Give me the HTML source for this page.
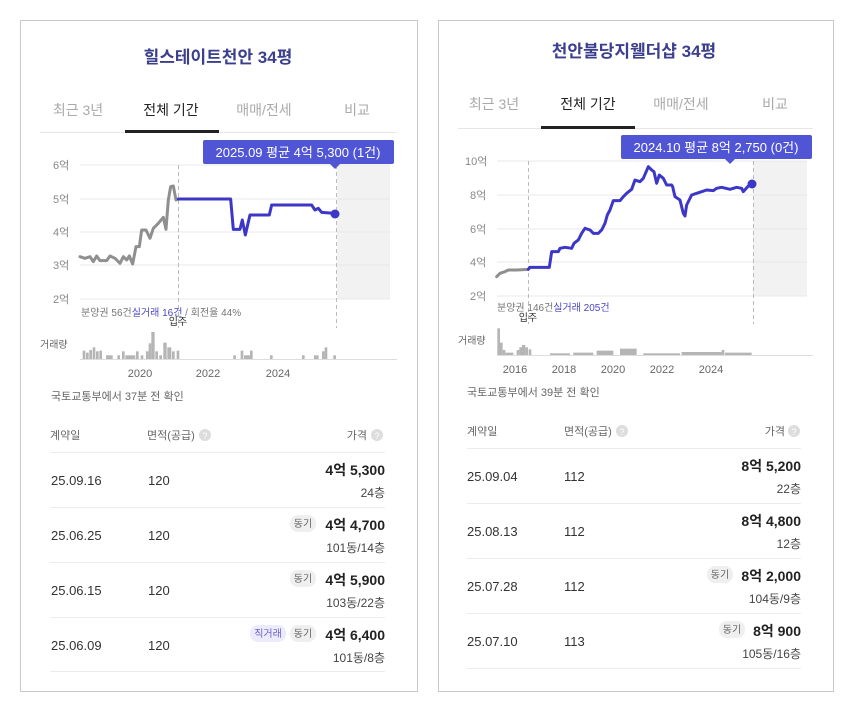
<!DOCTYPE html>
<html><head><meta charset="utf-8"><style>
html,body{margin:0;padding:0;background:#fff;}
svg text{font-family:"Liberation Sans","Noto Sans CJK KR",sans-serif;}
</style></head><body>
<svg width="854" height="713" viewBox="0 0 854 713" xmlns="http://www.w3.org/2000/svg">
<rect x="0" y="0" width="854" height="713" fill="#fff"/>
<!-- LEFT CARD -->
<rect x="20.5" y="20.5" width="397" height="671" fill="#fff" stroke="#c8c8c8"/>
<text x="218" y="63" text-anchor="middle" font-size="17" font-weight="bold" fill="#3c3f8c">힐스테이트천안 34평</text>
<g font-size="14" text-anchor="middle" fill="#aaa">
<text x="78" y="115">최근 3년</text><text x="171" y="115" fill="#222">전체 기간</text><text x="264" y="115">매매/전세</text><text x="357" y="115">비교</text></g>
<rect x="40" y="132" width="357" height="1" fill="#e6e6e6"/>
<rect x="125" y="130" width="94" height="3" fill="#222"/>
<!-- chart -->
<rect x="337" y="165" width="53" height="134" fill="#f2f2f2"/>
<g stroke="#e8e8e8" stroke-width="1">
<line x1="80" y1="165" x2="390" y2="165"/><line x1="80" y1="199" x2="390" y2="199"/><line x1="80" y1="232" x2="390" y2="232"/><line x1="80" y1="265" x2="390" y2="265"/><line x1="80" y1="299" x2="390" y2="299"/></g>
<g font-size="11" fill="#888"><text x="53" y="169">6억</text><text x="53" y="203">5억</text><text x="53" y="236">4억</text><text x="53" y="269">3억</text><text x="53" y="303">2억</text></g>
<g stroke="#bbb" stroke-dasharray="4,3"><line x1="178.5" y1="165" x2="178.5" y2="328"/><line x1="336.5" y1="165" x2="336.5" y2="328"/></g>
<g transform="translate(40,130) scale(0.3333)" fill="none" stroke-width="9" stroke-linejoin="round" stroke-linecap="round">
<polyline stroke="#8f8f8f" points="120,380 135,385 150,380 160,395 170,378 180,392 200,392 210,378 225,385 240,400 250,380 260,390 268,378 278,402 288,350 298,350 305,300 318,300 330,325 340,295 355,280 370,262 378,298 385,210 392,170 400,168 408,210 415,207"/>
<polyline stroke="#3d37c8" points="415,207 572,207 580,298 600,298 607,270 616,315 630,255 688,255 695,225 815,225 825,240 835,235 845,247 885,250"/>
</g>
<circle cx="335" cy="214" r="4.5" fill="#3d37c8"/>
<rect x="203" y="140" width="191" height="24" rx="2" fill="#5055d6"/>
<polygon points="330,164 340,164 335,169" fill="#5055d6"/>
<text x="298" y="157" text-anchor="middle" font-size="13" fill="#fff">2025.09 평균 4억 5,300 (1건)</text>
<text x="81" y="316" font-size="10" fill="#777">분양권 56건<tspan fill="#4a46c0">실거래 16건</tspan> / 회전율 44%</text>
<text x="178" y="325" text-anchor="middle" font-size="10" fill="#333">입주</text>
<text x="40" y="348" font-size="10" fill="#666">거래량</text>
<g fill="#b5b5b5" transform="translate(40,130) scale(0.3333)">
<rect x="128" y="662" width="8" height="26"/><rect x="138" y="668" width="8" height="20"/><rect x="148" y="660" width="8" height="28"/><rect x="158" y="652" width="8" height="36"/><rect x="168" y="664" width="8" height="24"/><rect x="178" y="662" width="8" height="26"/><rect x="198" y="676" width="20" height="12"/><rect x="232" y="676" width="8" height="12"/><rect x="246" y="664" width="8" height="24"/><rect x="256" y="676" width="30" height="12"/><rect x="288" y="664" width="8" height="24"/><rect x="302" y="676" width="8" height="12"/><rect x="318" y="664" width="8" height="24"/><rect x="326" y="640" width="8" height="48"/><rect x="334" y="606" width="10" height="82"/><rect x="346" y="664" width="8" height="24"/><rect x="358" y="676" width="8" height="12"/><rect x="370" y="638" width="10" height="50"/><rect x="382" y="652" width="12" height="36"/><rect x="396" y="664" width="8" height="24"/><rect x="410" y="662" width="8" height="26"/><rect x="580" y="676" width="8" height="12"/><rect x="602" y="662" width="8" height="26"/><rect x="612" y="676" width="18" height="12"/><rect x="630" y="662" width="8" height="26"/><rect x="690" y="676" width="8" height="12"/><rect x="786" y="676" width="8" height="12"/><rect x="822" y="676" width="14" height="12"/><rect x="846" y="664" width="8" height="24"/><rect x="854" y="652" width="8" height="36"/><rect x="880" y="676" width="8" height="12"/>
</g>
<line x1="80" y1="359.5" x2="397" y2="359.5" stroke="#ddd"/>
<g font-size="11" fill="#666" text-anchor="middle"><text x="140" y="377">2020</text><text x="208" y="377">2022</text><text x="278" y="377">2024</text></g>
<text x="51" y="400" font-size="11" fill="#666">국토교통부에서 37분 전 확인</text>
<g font-size="11" fill="#666"><text x="50" y="439">계약일</text><text x="147" y="439">면적(공급)</text><text x="367" y="439" text-anchor="end">가격</text></g>
<circle cx="205" cy="435" r="6" fill="#ddd"/><text x="205" y="439" font-size="9" fill="#fff" text-anchor="middle">?</text>
<circle cx="377" cy="435" r="6" fill="#ddd"/><text x="377" y="439" font-size="9" fill="#fff" text-anchor="middle">?</text>
<g stroke="#ececec"><line x1="50" y1="452.5" x2="385" y2="452.5"/><line x1="50" y1="507.5" x2="385" y2="507.5"/><line x1="50" y1="562.5" x2="385" y2="562.5"/><line x1="50" y1="617.5" x2="385" y2="617.5"/><line x1="50" y1="671.5" x2="385" y2="671.5"/></g>
<g font-size="13" fill="#333"><text x="51" y="485">25.09.16</text><text x="148" y="485">120</text><text x="51" y="540">25.06.25</text><text x="148" y="540">120</text><text x="51" y="595">25.06.15</text><text x="148" y="595">120</text><text x="51" y="650">25.06.09</text><text x="148" y="650">120</text></g>
<g font-size="14" font-weight="bold" fill="#222" text-anchor="end"><text x="385" y="475">4억 5,300</text><text x="385" y="530">4억 4,700</text><text x="385" y="585">4억 5,900</text><text x="385" y="640">4억 6,400</text></g>
<g font-size="12" fill="#444" text-anchor="end"><text x="385" y="497">24층</text><text x="385" y="552">101동/14층</text><text x="385" y="607">103동/22층</text><text x="385" y="662">101동/8층</text></g>
<g fill="#efefef"><rect x="290" y="515" width="26" height="17" rx="8"/><rect x="290" y="570" width="26" height="17" rx="8"/><rect x="290" y="625" width="26" height="17" rx="8"/></g>
<rect x="250" y="625" width="36" height="17" rx="8" fill="#ecebfb"/>
<g font-size="10" fill="#666" text-anchor="middle"><text x="303" y="527">동기</text><text x="303" y="582">동기</text><text x="303" y="637">동기</text><text x="268" y="637" fill="#6a5fd0">직거래</text></g>

<!-- RIGHT CARD -->
<rect x="438.5" y="20.5" width="395" height="671" fill="#fff" stroke="#c8c8c8"/>
<text x="634" y="57" text-anchor="middle" font-size="17" font-weight="bold" fill="#3c3f8c">천안불당지웰더샵 34평</text>
<g font-size="14" text-anchor="middle" fill="#aaa">
<text x="494" y="109">최근 3년</text><text x="588" y="109" fill="#222">전체 기간</text><text x="681" y="109">매매/전세</text><text x="775" y="109">비교</text></g>
<rect x="458" y="128" width="355" height="1" fill="#e6e6e6"/>
<rect x="541" y="126" width="94" height="3" fill="#222"/>
<rect x="753" y="161" width="54" height="135" fill="#f2f2f2"/>
<g stroke="#e8e8e8"><line x1="497" y1="161" x2="807" y2="161"/><line x1="497" y1="195" x2="807" y2="195"/><line x1="497" y1="229" x2="807" y2="229"/><line x1="497" y1="262" x2="807" y2="262"/><line x1="497" y1="296" x2="807" y2="296"/></g>
<g font-size="11" fill="#888"><text x="465" y="165">10억</text><text x="470" y="199">8억</text><text x="470" y="233">6억</text><text x="470" y="266">4억</text><text x="470" y="300">2억</text></g>
<g stroke="#bbb" stroke-dasharray="4,3"><line x1="528.5" y1="161" x2="528.5" y2="324"/><line x1="753.5" y1="161" x2="753.5" y2="324"/></g>
<g transform="translate(450,130) scale(0.3333)" fill="none" stroke-width="9" stroke-linejoin="round" stroke-linecap="round">
<polyline stroke="#8f8f8f" points="140,440 150,430 165,425 175,420 200,420 235,418"/>
<polyline stroke="#3d37c8" points="235,418 240,412 298,412 305,365 325,365 330,355 345,352 365,355 372,340 385,330 395,310 405,295 420,300 430,310 445,310 455,300 465,280 472,255 480,240 490,212 510,212 520,200 530,190 545,178 555,150 570,155 580,145 595,110 605,120 612,125 620,160 628,135 640,145 650,165 665,165 668,170 675,200 690,210 700,250 705,258 710,225 725,195 740,190 755,185 770,180 790,182 800,175 815,172 840,178 860,172 875,175 880,185 895,168 905,163"/>
</g>
<circle cx="752" cy="184" r="4.5" fill="#3d37c8"/>
<rect x="621" y="135" width="191" height="24" rx="2" fill="#5055d6"/>
<polygon points="725,159 735,159 730,164" fill="#5055d6"/>
<text x="716" y="152" text-anchor="middle" font-size="13" fill="#fff">2024.10 평균 8억 2,750 (0건)</text>
<text x="497" y="311" font-size="10" fill="#777">분양권 146건<tspan fill="#4a46c0">실거래 205건</tspan></text>
<text x="528" y="321" text-anchor="middle" font-size="10" fill="#333">입주</text>
<text x="458" y="344" font-size="10" fill="#666">거래량</text>
<g fill="#b5b5b5" transform="translate(450,130) scale(0.3333)">
<rect x="142" y="595" width="8" height="80"/><rect x="150" y="638" width="8" height="37"/><rect x="158" y="660" width="8" height="15"/><rect x="166" y="668" width="24" height="7"/><rect x="200" y="660" width="8" height="15"/><rect x="208" y="652" width="8" height="23"/><rect x="216" y="645" width="10" height="30"/><rect x="226" y="652" width="8" height="23"/><rect x="236" y="658" width="8" height="17"/><rect x="300" y="670" width="60" height="5"/><rect x="370" y="668" width="60" height="7"/><rect x="440" y="662" width="50" height="13"/><rect x="510" y="656" width="50" height="19"/><rect x="580" y="670" width="110" height="5"/><rect x="695" y="666" width="120" height="9"/><rect x="815" y="660" width="8" height="15"/><rect x="825" y="668" width="80" height="7"/>
</g>
<line x1="497" y1="355.5" x2="813" y2="355.5" stroke="#ddd"/>
<g font-size="11" fill="#666" text-anchor="middle"><text x="515" y="373">2016</text><text x="564" y="373">2018</text><text x="613" y="373">2020</text><text x="662" y="373">2022</text><text x="711" y="373">2024</text></g>
<text x="467" y="396" font-size="11" fill="#666">국토교통부에서 39분 전 확인</text>
<g font-size="11" fill="#666"><text x="467" y="435">계약일</text><text x="564" y="435">면적(공급)</text><text x="785" y="435" text-anchor="end">가격</text></g>
<circle cx="622" cy="431" r="6" fill="#ddd"/><text x="622" y="435" font-size="9" fill="#fff" text-anchor="middle">?</text>
<circle cx="794" cy="431" r="6" fill="#ddd"/><text x="794" y="435" font-size="9" fill="#fff" text-anchor="middle">?</text>
<g stroke="#ececec"><line x1="467" y1="448.5" x2="801" y2="448.5"/><line x1="467" y1="503.5" x2="801" y2="503.5"/><line x1="467" y1="558.5" x2="801" y2="558.5"/><line x1="467" y1="613.5" x2="801" y2="613.5"/><line x1="467" y1="668.5" x2="801" y2="668.5"/></g>
<g font-size="13" fill="#333"><text x="467" y="481">25.09.04</text><text x="564" y="481">112</text><text x="467" y="536">25.08.13</text><text x="564" y="536">112</text><text x="467" y="591">25.07.28</text><text x="564" y="591">112</text><text x="467" y="646">25.07.10</text><text x="564" y="646">113</text></g>
<g font-size="14" font-weight="bold" fill="#222" text-anchor="end"><text x="801" y="471">8억 5,200</text><text x="801" y="526">8억 4,800</text><text x="801" y="581">8억 2,000</text><text x="801" y="636">8억 900</text></g>
<g font-size="12" fill="#444" text-anchor="end"><text x="801" y="493">22층</text><text x="801" y="548">12층</text><text x="801" y="603">104동/9층</text><text x="801" y="658">105동/16층</text></g>
<g fill="#efefef"><rect x="707" y="566" width="26" height="17" rx="8"/><rect x="719" y="621" width="26" height="17" rx="8"/></g>
<g font-size="10" fill="#666" text-anchor="middle"><text x="720" y="578">동기</text><text x="732" y="633">동기</text></g>
</svg>
</body></html>
